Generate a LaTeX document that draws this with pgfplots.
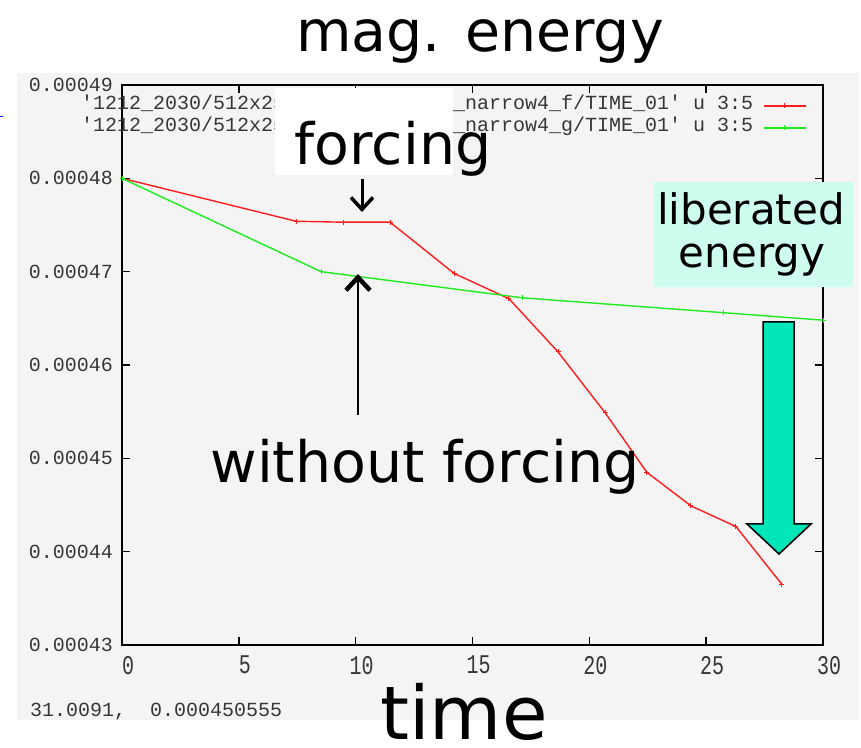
\documentclass[border=0pt]{standalone}
\usepackage{pgfplots}
\pgfplotsset{compat=1.18}
\usepackage{fontspec}
\setmainfont{DejaVu Sans}
\newfontfamily\mono{Liberation Mono}
\usetikzlibrary{arrows.meta}
\definecolor{bggray}{RGB}{244,244,244}
\definecolor{libbox}{RGB}{206,253,240}
\definecolor{bigarrow}{RGB}{0,230,184}
\definecolor{gpred}{RGB}{255,30,30}
\definecolor{gpgreen}{RGB}{30,235,30}
\definecolor{ticktext}{RGB}{55,55,55}
\begin{document}
\begin{tikzpicture}[x=1bp,y=1bp]
\path[use as bounding box] (0,0) rectangle (861,748);
\fill[bggray] (17,28) rectangle (859,675);
\fill[blue] (0,630.5) rectangle (3,632);
\begin{axis}[
  at={(122bp,103bp)}, anchor=south west,
  scale only axis, width=701bp, height=560bp,
  xmin=0, xmax=30, ymin=0.00043, ymax=0.00049,
  scaled y ticks=false, scaled x ticks=false,
  xtick={0,5,10,15,20,25,30},
  xticklabels={0,5,10,15,20,25,30},
  ytick={0.00043,0.00044,0.00045,0.00046,0.00047,0.00048,0.00049},
  yticklabels={0.00043,0.00044,0.00045,0.00046,0.00047,0.00048,0.00049},
  axis line style={line width=2.4bp, black},
  tick style={line width=1.6bp, black},
  major tick length=8bp,
  tick align=inside,
  axis background/.style={fill=bggray},
  yticklabel style={font=\mono\fontsize{20bp}{20bp}\selectfont, text=ticktext, inner sep=0pt, xshift=-9bp},
  xticklabel style={font=\mono\fontsize{20bp}{20bp}\selectfont, text=ticktext, inner sep=0pt, yscale=1.35, xshift=6bp, yshift=-8bp},
  legend plot pos=right,
  legend cell align=right,
  legend style={at={(axis description cs:0.977,0.981)}, anchor=north east, draw=none, fill=none,
    inner sep=0pt, row sep=2bp, column sep=10bp,
    font=\mono\fontsize{20bp}{20bp}\selectfont, text=ticktext,
    nodes={inner sep=0pt, text height=14bp, text depth=6bp}},
  legend image code/.code={\draw[mark repeat=2,mark phase=2,#1] plot coordinates {(0bp,0bp)(21bp,0bp)(42bp,0bp)};},
]
\addplot[gpred, line width=1.4bp, mark=+, mark size=2.5bp, mark options={solid, line width=1bp}] coordinates {
(0,0.000480) (7.45,0.0004754) (9.46,0.0004753) (11.47,0.0004753) (14.22,0.0004698)
(16.56,0.0004671) (18.66,0.0004614) (20.67,0.0004549) (22.46,0.0004485)
(24.35,0.0004449) (26.27,0.0004427) (28.24,0.0004365)};
\addlegendentry{'1212\_2030/512x256\_Pm0.1\_dens20\_narrow4\_f/TIME\_01' u 3:5}
\addplot[gpgreen, line width=1.4bp, mark=+, mark size=2.5bp, mark options={solid, line width=1bp}] coordinates {
(0,0.000480) (8.52,0.000470) (17.12,0.0004672) (25.76,0.0004656) (30,0.0004648)};
\addlegendentry{'1212\_2030/512x256\_Pm0.1\_dens20\_narrow4\_g/TIME\_01' u 3:5}
\end{axis}
% white box behind "forcing"
\fill[white] (275,573) rectangle (453,660);
\node[anchor=base, inner sep=0pt, font=\fontsize{57bp}{60bp}\selectfont] at (393,583) {forcing};
\draw[line width=3bp, -{Straight Barb[length=12bp,width=22bp,line width=3.5bp]}] (362,569) -- (362,536);
% without forcing
\node[anchor=base, inner sep=0pt, font=\fontsize{57bp}{60bp}\selectfont] at (425,265) {without forcing};
\draw[line width=1.8bp, -{Straight Barb[length=13bp,width=24bp,line width=4.5bp]}] (358,333) -- (358,474);
% liberated energy box
\fill[libbox] (654,461) rectangle (853,566);
\node[anchor=base, inner sep=0pt, font=\fontsize{42bp}{44bp}\selectfont] at (751,523) {liberated};
\node[anchor=base, inner sep=0pt, font=\fontsize{42bp}{44bp}\selectfont] at (752,480) {energy};
% big arrow
\filldraw[fill=bigarrow, draw=black, line width=1.5bp] (763,426) -- (794,426) -- (794,224) -- (811,224) -- (779,194) -- (747,224) -- (763,224) -- cycle;
% title and x label
\node[anchor=base, inner sep=0pt, font=\fontsize{57bp}{60bp}\selectfont] at (480,696) {mag. energy};
\node[anchor=base, inner sep=0pt, font=\fontsize{74bp}{76bp}\selectfont] at (464,8) {time};
% status line
\node[anchor=west, inner sep=0pt, font=\mono\fontsize{20bp}{20bp}\selectfont, text=ticktext] at (30,36) {31.0091,\ \ 0.000450555};
\end{tikzpicture}
\end{document}
